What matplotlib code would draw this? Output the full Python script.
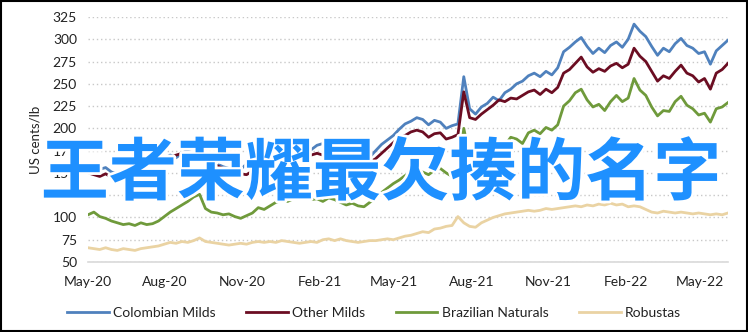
import matplotlib
matplotlib.use("Agg")
import matplotlib.pyplot as plt
import matplotlib.dates as mdates
import matplotlib.patheffects as pe
import numpy as np
import pandas as pd

dates = pd.date_range("2020-05-01", periods=110, freq="7D")

colombian_milds = [160, 157, 154, 156, 151, 149, 152, 150, 153, 155,
                   152, 160, 168, 166, 170, 167, 172, 176, 178, 172,
                   169, 165, 160, 157, 155, 158, 154, 160, 166, 163,
                   170, 173, 171, 176, 174, 172, 174, 178, 176, 181,
                   183, 179, 184, 186, 180, 177, 173, 170, 168, 175,
                   182, 187, 192, 199, 205, 208, 212, 210, 204, 209,
                   207, 200, 203, 205, 258, 222, 216, 224, 228, 235,
                   231, 240, 244, 250, 253, 259, 262, 258, 264, 260,
                   268, 286, 291, 297, 302, 292, 284, 290, 285, 293,
                   297, 291, 300, 317, 309, 303, 292, 282, 290, 286,
                   295, 301, 293, 290, 284, 286, 272, 287, 293, 299]

other_milds = [150, 148, 146, 149, 145, 142, 144, 141, 143, 146,
               144, 150, 158, 163, 167, 170, 172, 168, 166, 169,
               163, 160, 158, 155, 153, 151, 149, 148, 152, 156,
               160, 164, 162, 166, 168, 164, 163, 167, 170, 172,
               170, 174, 176, 172, 168, 164, 161, 158, 162, 166,
               172, 178, 184, 190, 192, 196, 198, 196, 190, 194,
               195, 188, 190, 193, 241, 212, 210, 216, 221, 226,
               232, 230, 234, 233, 237, 241, 243, 238, 244, 240,
               246, 262, 266, 273, 280, 269, 263, 267, 264, 270,
               273, 268, 272, 290, 281, 275, 264, 253, 259, 256,
               264, 271, 262, 259, 252, 256, 244, 262, 266, 273]

brazilian_naturals = [103, 106, 101, 99, 96, 94, 92, 93, 91, 94,
                      92, 93, 96, 101, 106, 110, 114, 118, 123, 126,
                      110, 106, 105, 103, 104, 101, 99, 102, 105, 111,
                      109, 113, 117, 119, 118, 121, 122, 124, 120, 121,
                      118, 122, 120, 117, 114, 116, 113, 112, 117, 122,
                      128, 133, 138, 142, 147, 150, 153, 151, 148, 153,
                      155, 150, 146, 145, 200, 168, 163, 175, 183, 189,
                      185, 181, 190, 188, 183, 195, 198, 194, 201, 198,
                      204, 225, 231, 240, 244, 232, 224, 227, 220, 230,
                      237, 230, 234, 256, 243, 237, 224, 214, 220, 219,
                      230, 236, 226, 222, 215, 217, 207, 222, 224, 229]

robustas = [66, 65, 64, 66, 64, 63, 65, 64, 63, 65,
            66, 67, 68, 70, 72, 71, 73, 72, 74, 77,
            73, 72, 71, 70, 69, 70, 71, 70, 72, 73,
            72, 73, 72, 74, 73, 72, 71, 72, 73, 72,
            75, 76, 74, 76, 74, 73, 72, 73, 74, 74,
            75, 76, 75, 77, 79, 80, 82, 84, 83, 87,
            88, 90, 91, 101, 94, 90, 89, 94, 97, 100,
            102, 104, 105, 106, 107, 108, 107, 108, 110, 109,
            110, 111, 112, 113, 112, 114, 113, 115, 114, 116,
            114, 115, 112, 113, 112, 109, 106, 105, 107, 106,
            105, 106, 105, 104, 105, 104, 103, 104, 103, 105]

series_names = ["Colombian Milds", "Other Milds", "Brazilian Naturals", "Robustas"]
series_colors = ["#4f81bd", "#6b0d22", "#6f9a3b", "#ead3a3"]
y_ticks = [50, 75, 100, 125, 150, 175, 200, 225, 250, 275, 300, 325]
x_tick_dates = pd.date_range("2020-05-01", "2022-05-01", freq="3MS")
overlay_text = "王者荣耀最欠揍的名字"

plt.rcParams['font.family'] = ['Lato', 'DejaVu Sans']

fig = plt.figure(figsize=(7.48, 3.32), dpi=100)
ax = fig.add_axes([88/748, 1-262/332, (728-88)/748, (262-17)/332])

for vals, name, col in zip([colombian_milds, other_milds, brazilian_naturals, robustas],
                           series_names, series_colors):
    ax.plot(dates, vals, color=col, lw=2.0, label=name, solid_joinstyle='round')

ax.set_ylim(50, 325)
ax.set_xlim(dates[0], dates[-1])
ax.set_yticks(y_ticks)
ax.set_xticks(x_tick_dates)
ax.xaxis.set_major_formatter(mdates.DateFormatter("%b-%y"))
ax.grid(axis='y', linestyle=(0, (1, 2)), color='#c8c8c8', lw=1.0)
ax.set_axisbelow(True)
for s in ['top', 'right', 'left']:
    ax.spines[s].set_visible(False)
ax.spines['bottom'].set_color('#d9d9d9')
ax.spines['bottom'].set_linewidth(1.2)
ax.tick_params(axis='both', length=0, labelsize=10, colors='#222222')
ax.tick_params(axis='x', pad=10)
ax.tick_params(axis='y', pad=8)
ax.set_ylabel("US cents/lb", fontsize=9.5, color='#222222', labelpad=8)

fig.legend(loc='center', bbox_to_anchor=(0.5, 1-313/332), ncol=4, frameon=False,
           fontsize=10, handlelength=3.0, handletextpad=0.3, columnspacing=2.2,
           labelcolor='#222222')

fig.text(0.509, 1-175/332, overlay_text, fontsize=49, color='#1e90ff',
         family=['Noto Sans CJK SC', 'DejaVu Sans'], weight='bold',
         ha='center', va='center',
         path_effects=[pe.withStroke(linewidth=4, foreground='white')])

border = plt.Rectangle((0.001, 0.002), 0.997, 0.995, transform=fig.transFigure,
                       fill=False, edgecolor='black', lw=1.5)
fig.patches.append(border)

fig.savefig("out.png", dpi=100)
